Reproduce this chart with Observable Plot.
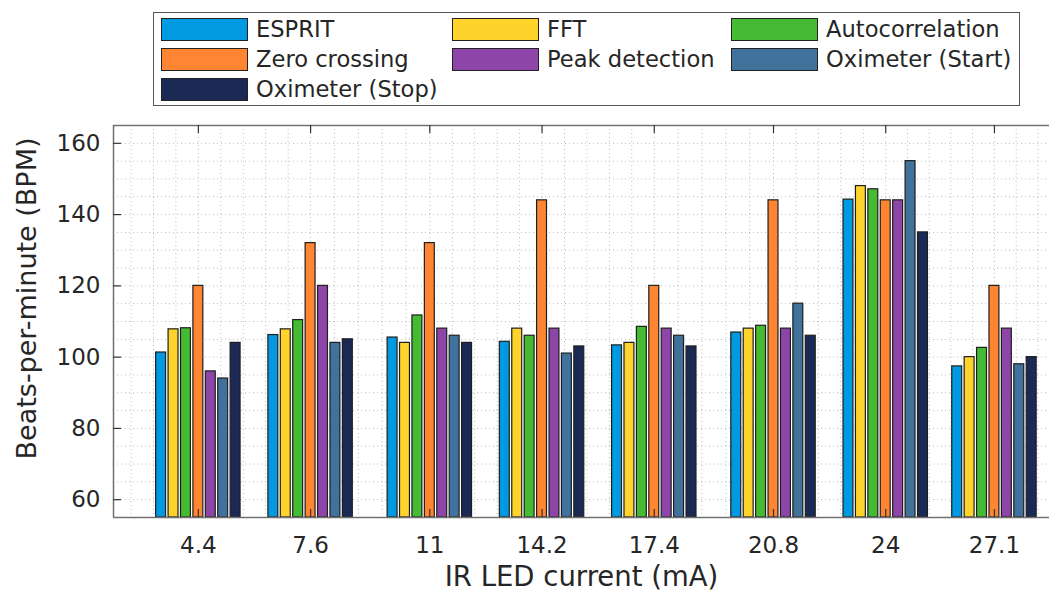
<!DOCTYPE html>
<html><head><meta charset="utf-8">
<script src="https://cdn.jsdelivr.net/npm/d3@7"></script>
<script src="https://cdn.jsdelivr.net/npm/@observablehq/plot@0.6"></script>
<style>
body{margin:0;background:#fff;font-family:"DejaVu Sans",sans-serif;}
#wrap{width:1049px;height:592px;position:relative;overflow:hidden;background:#fff;}
#legend{position:relative;height:112px;}
.box{position:absolute;left:153px;top:12px;width:867px;height:94px;border:1px solid #555;background:#fff;box-sizing:border-box}
.item{position:absolute;display:flex;align-items:center;height:24px;}
.sw{width:87px;height:23px;border:1px solid #222;box-sizing:border-box;margin-right:8px}
.lab{font-size:22.6px;color:#262626;white-space:nowrap;line-height:24px}
</style></head><body>
<div id="wrap"><div id="legend"><div class="box"></div></div><div id="chart"></div></div>
<script>
const currents = [4.4, 7.6, 11, 14.2, 17.4, 20.8, 24, 27.1];
const seriesNames = ["ESPRIT","FFT","Autocorrelation","Zero crossing","Peak detection","Oximeter (Start)","Oximeter (Stop)"];
const seriesColors = ["#0099e2","#fed32c","#44bb33","#fe8531","#8d45a8","#40729c","#1a2a55"];
const esprit = [101.3,106.2,105.5,104.3,103.3,106.9,144.2,97.4];
const fft = [107.8,107.8,104,108,104,108,148,100];
const autocorrelation = [108.1,110.4,111.7,106,108.5,108.8,147.1,102.6];
const zeroCrossing = [120,132,132,144,120,144,144,120];
const peakDetection = [96,120,108,108,108,108,144,108];
const oximeterStart = [94,104,106,101,106,115,155,98];
const oximeterStop = [104,105,104,103,103,106,135,100];
const yTicks = [60,80,100,120,140,160];
const yTitle = "Beats-per-minute (BPM)";
const xTitle = "IR LED current (mA)";

const seriesData = [esprit, fft, autocorrelation, zeroCrossing, peakDetection, oximeterStart, oximeterStop];

// Legend
const legend = document.getElementById("legend");
const colX = [161, 452, 731], rowY = [17, 47, 77];
seriesNames.forEach((name, i) => {
  const it = document.createElement("div");
  it.className = "item";
  it.style.left = colX[i % 3] + "px";
  it.style.top = rowY[Math.floor(i / 3)] + "px";
  const sw = document.createElement("div");
  sw.className = "sw"; sw.style.background = seriesColors[i];
  const lb = document.createElement("span");
  lb.className = "lab"; lb.textContent = name;
  it.appendChild(sw); it.appendChild(lb);
  legend.appendChild(it);
});

const W = 1049, H = 480, mL = 113, mR = 0, mT = 13, mB = 75;
const xDom = [1.98, 28.67], yDom = [55, 165];
const kx = (W - mL - mR) / (xDom[1] - xDom[0]);
const ky = (H - mT - mB) / (yDom[1] - yDom[0]);
const slot = 0.354, bw = 0.283, mid = 3;

const bars = seriesData.flatMap((vals, i) => vals.map((v, j) => ({x: currents[j], i, series: seriesNames[i], v})));

const yGrid = d3.range(yDom[0], yDom[1] + 0.001, 5);
const n = currents.length;
const ext = [currents[0] - (currents[1] - currents[0]), ...currents, currents[n-1] + (currents[n-1] - currents[n-2])];
const xGrid = [];
for (let k = 0; k < ext.length - 1; k++) {
  for (let s = 0; s < 5; s++) {
    const g = ext[k] + s * (ext[k+1] - ext[k]) / 5;
    if (g > xDom[0] + 0.05 && g < xDom[1]) xGrid.push(g);
  }
}

const gridStyle = {stroke: "#bdbdbd", strokeDasharray: "1,3", strokeWidth: 1};
const chart = Plot.plot({
  width: W, height: H,
  marginLeft: mL, marginRight: mR, marginTop: mT, marginBottom: mB,
  style: {fontFamily: "DejaVu Sans, sans-serif", fontSize: "23px", color: "#262626", background: "#fff", overflow: "visible"},
  x: {type: "linear", domain: xDom},
  y: {type: "linear", domain: yDom},
  color: {domain: seriesNames, range: seriesColors},
  marks: [
    Plot.ruleY(yGrid, {...gridStyle}),
    Plot.ruleX(xGrid, {...gridStyle}),
    Plot.rect(bars, {
      x1: d => d.x + (d.i - mid) * slot - bw / 2,
      x2: d => d.x + (d.i - mid) * slot + bw / 2,
      y1: yDom[0], y2: "v",
      fill: "series", stroke: "#1e1e1e", strokeWidth: 1.2
    }),
    Plot.ruleX([xDom[0]], {stroke: "#707070", strokeWidth: 1.5}),
    Plot.ruleY([yDom[0], yDom[1]], {stroke: "#707070", strokeWidth: 1.5}),
    Plot.ruleY(yTicks, {x1: xDom[0], x2: xDom[0] + 8 / kx, stroke: "#333", strokeWidth: 1.2}),
    Plot.ruleX(currents, {y1: yDom[1], y2: yDom[1] - 8 / ky, stroke: "#333", strokeWidth: 1.2}),
    Plot.ruleX(currents, {y1: yDom[0], y2: yDom[0] + 8 / ky, stroke: "#333", strokeWidth: 1.2}),
    Plot.axisY({ticks: yTicks, tickSize: 0, tickPadding: 13, label: null, fontSize: 23}),
    Plot.axisX({ticks: currents, tickSize: 0, tickPadding: 19, label: null, fontSize: 23, tickFormat: d => String(d)}),
    Plot.text([yTitle], {text: d => d, frameAnchor: "left", textAnchor: "middle", lineAnchor: "middle", dx: -86, dy: -23, rotate: -90, fontSize: 27, fill: "#262626"}),
    Plot.text([xTitle], {text: d => d, frameAnchor: "bottom", textAnchor: "middle", lineAnchor: "middle", dy: 60, fontSize: 27.5, fill: "#262626"})
  ]
});
document.getElementById("chart").appendChild(chart);
</script>
</body></html>
